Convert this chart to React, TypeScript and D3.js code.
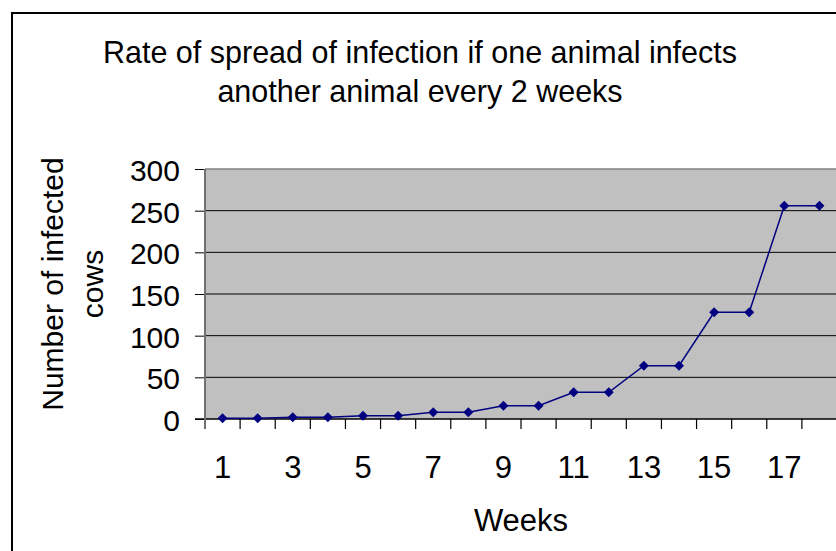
import { useRef, useEffect } from 'react';
import * as d3 from 'd3';

const WEEKS = [1, 2, 3, 4, 5, 6, 7, 8, 9, 10, 11, 12, 13, 14, 15, 16, 17, 18];
const INFECTED = [1, 1, 2, 2, 4, 4, 8, 8, 16, 16, 32, 32, 64, 64, 128, 128, 256, 256];
const Y_TICKS = [0, 50, 100, 150, 200, 250, 300];
const X_LABELS = [1, 3, 5, 7, 9, 11, 13, 15, 17];
const TITLE = ['Rate of spread of infection if one animal infects', 'another animal every 2 weeks'];
const Y_TITLE = ['Number of infected', 'cows'];
const X_TITLE = 'Weeks';

const W = 836;
const H = 551;
const PLOT = { left: 205, top: 169, right: 837, bottom: 419 };
const FONT = '"Liberation Sans", Arial, sans-serif';

export default function App() {
  const svgRef = useRef<SVGSVGElement>(null);

  useEffect(() => {
    if (!svgRef.current) return;
    const svg = d3.select(svgRef.current);
    svg.selectAll('*').remove();

    const x = d3.scaleBand<number>().domain(WEEKS).range([PLOT.left, PLOT.right]).padding(0);
    const y = d3.scaleLinear().domain([0, 300]).range([PLOT.bottom, PLOT.top]);
    const cx = (d: number) => (x(d) ?? 0) + x.bandwidth() / 2;

    // chart area
    svg.append('rect').attr('x', 0).attr('y', 0).attr('width', W).attr('height', H).attr('fill', '#fff');
    svg.append('path')
      .attr('d', `M12,${H + 5} L12,13 L${W + 5},13`)
      .attr('fill', 'none').attr('stroke', '#000').attr('stroke-width', 2);

    // plot area
    svg.append('rect')
      .attr('x', PLOT.left).attr('y', PLOT.top)
      .attr('width', W - PLOT.left + 2).attr('height', PLOT.bottom - PLOT.top)
      .attr('fill', '#c0c0c0');

    svg.append('line')
      .attr('x1', PLOT.left).attr('x2', W + 2)
      .attr('y1', PLOT.top).attr('y2', PLOT.top)
      .attr('stroke', '#808080').attr('stroke-width', 1.5);

    // gridlines
    svg.append('g').selectAll('line')
      .data(Y_TICKS.filter(v => v > 0 && v < 300))
      .join('line')
      .attr('x1', PLOT.left).attr('x2', W + 2)
      .attr('y1', d => y(d)).attr('y2', d => y(d))
      .attr('stroke', '#000').attr('stroke-width', 1);

    // y axis
    const yAxis = svg.append('g')
      .attr('transform', `translate(${PLOT.left},0)`)
      .call(d3.axisLeft(y).tickValues(Y_TICKS).tickSize(10).tickPadding(15));
    yAxis.select('.domain').remove();
    yAxis.selectAll('line').attr('stroke', '#000');
    yAxis.selectAll('text')
      .attr('font-family', FONT).attr('font-size', 30).attr('fill', '#000')
      .attr('dy', '0.38em');

    // x axis line and ticks
    svg.append('line')
      .attr('x1', PLOT.left - 10).attr('x2', W + 2)
      .attr('y1', PLOT.bottom).attr('y2', PLOT.bottom)
      .attr('stroke', '#000').attr('stroke-width', 1.5);

    svg.append('g').selectAll('line')
      .data(WEEKS.slice(1))
      .join('line')
      .attr('x1', d => x(d) ?? 0).attr('x2', d => x(d) ?? 0)
      .attr('y1', PLOT.bottom).attr('y2', PLOT.bottom + 10)
      .attr('stroke', '#000').attr('stroke-width', 1.2);

    svg.append('line')
      .attr('x1', PLOT.left).attr('x2', PLOT.left)
      .attr('y1', PLOT.top).attr('y2', PLOT.bottom + 10)
      .attr('stroke', '#707070').attr('stroke-width', 2);

    svg.append('g').selectAll('text')
      .data(X_LABELS)
      .join('text')
      .attr('x', d => cx(d)).attr('y', 478)
      .attr('text-anchor', 'middle')
      .attr('font-family', FONT).attr('font-size', 31).attr('fill', '#000')
      .text(d => d);

    // series
    const line = d3.line<number>()
      .x((_, i) => cx(WEEKS[i]))
      .y(d => y(d));
    svg.append('path')
      .datum(INFECTED)
      .attr('d', line)
      .attr('fill', 'none').attr('stroke', '#000080').attr('stroke-width', 1.5);

    const diamond = d3.symbol().type(d3.symbolSquare).size(50);
    svg.append('g').selectAll('path')
      .data(INFECTED)
      .join('path')
      .attr('d', diamond)
      .attr('transform', (d, i) => `translate(${cx(WEEKS[i])},${y(d)}) rotate(45)`)
      .attr('fill', '#000080');

    // titles
    svg.append('text')
      .attr('x', 420).attr('y', 63)
      .attr('text-anchor', 'middle')
      .attr('font-family', FONT).attr('font-size', 30.5).attr('fill', '#000')
      .selectAll('tspan')
      .data(TITLE)
      .join('tspan')
      .attr('x', 420).attr('dy', (_, i) => (i === 0 ? 0 : 39))
      .text(d => d);

    svg.append('text')
      .attr('transform', 'translate(63,284) rotate(-90)')
      .attr('text-anchor', 'middle')
      .attr('font-family', FONT).attr('font-size', 30).attr('fill', '#000')
      .selectAll('tspan')
      .data(Y_TITLE)
      .join('tspan')
      .attr('x', 0).attr('dy', (_, i) => (i === 0 ? 0 : 40))
      .text(d => d);

    svg.append('text')
      .attr('x', 521).attr('y', 531)
      .attr('text-anchor', 'middle')
      .attr('font-family', FONT).attr('font-size', 31).attr('fill', '#000')
      .text(X_TITLE);
  }, []);

  return (
    <svg
      ref={svgRef}
      width={W}
      height={H}
      style={{ position: 'absolute', left: 0, top: 0, display: 'block' }}
    />
  );
}
